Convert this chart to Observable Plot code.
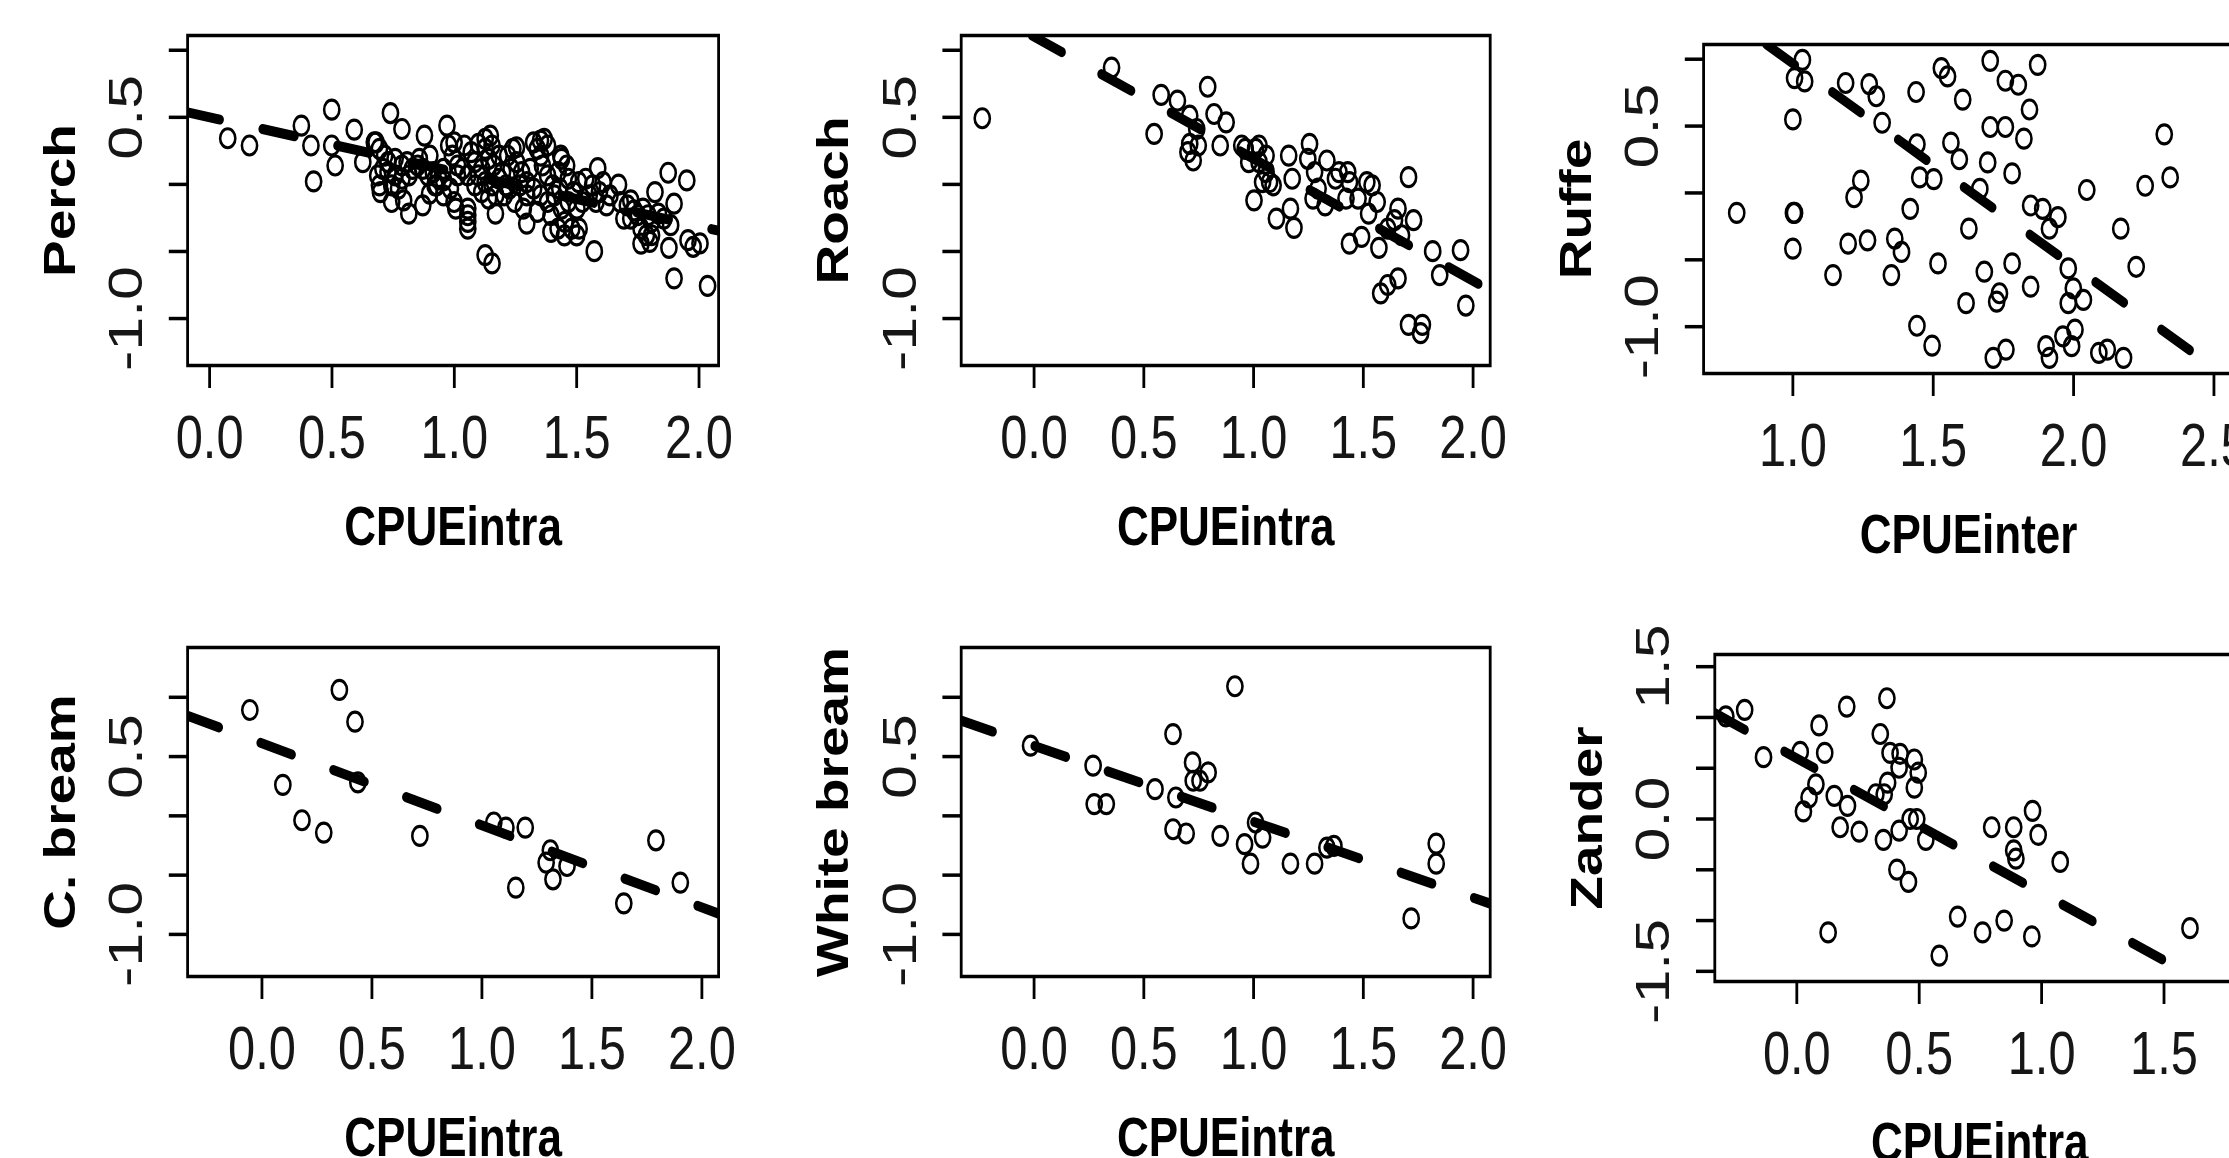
<!DOCTYPE html>
<html><head><meta charset="utf-8">
<script src="https://cdn.jsdelivr.net/npm/d3@7"></script>
<script src="https://cdn.jsdelivr.net/npm/@observablehq/plot@0.6"></script>
<style>
html,body{margin:0;padding:0;background:#fff;overflow:hidden;width:2229px;height:1158px;}
#stage{position:absolute;left:0;top:0;width:2787px;height:1158px;transform:scaleX(0.8);transform-origin:0 0;}
#stage svg{position:absolute;}
</style></head><body><div id="stage"></div>
<script>
// ---------- data ----------
const perchX = [0.074,0.163,0.375,0.414,0.425,0.499,0.499,0.513,0.591,0.626,0.68,0.698,0.739,0.786,0.744,0.793,0.814,0.871,0.878,0.9,0.928,0.97,0.999,1.006,1.055,1.055,1.055,1.055,1.126,1.154,1.147,1.168,1.254,1.296,1.352,1.395,1.435,1.45,1.5,1.51,1.572,1.586,1.671,1.693,1.763,1.799,1.82,1.874,1.898,1.898,1.877,1.884,1.95,1.955,1.976,2.004,2.035,
0.673,0.694,0.715,0.729,0.758,0.786,0.807,0.829,0.85,0.857,0.729,0.758,0.786,0.815,0.708,0.687,0.871,0.892,0.914,0.935,0.956,0.744,0.772,0.694,0.921,0.956,0.977,0.992,1.013,0.956,0.899,0.984,1.013,0.999,1.041,1.069,1.098,1.126,1.084,1.112,1.14,1.161,1.183,1.197,1.098,1.126,1.154,1.183,1.211,1.084,1.055,1.034,1.112,1.14,1.169,1.204,1.225,1.232,1.218,1.239,1.126,1.154,1.254,1.275,1.296,1.31,1.324,1.339,1.353,1.367,1.381,1.36,1.381,1.402,1.424,1.438,1.459,1.466,1.431,1.409,1.381,1.353,1.324,1.296,1.268,1.246,1.282,1.339,1.395,1.438,1.466,1.487,1.452,1.424,1.48,1.508,1.537,1.565,1.593,1.551,1.579,1.523,1.622,1.636,1.608,1.501,1.678,1.707,1.721,1.735,1.749,1.771,1.792,1.806,1.834,1.856,1.763,1.785,1.721,1.806];
const perchY = [0.344,0.29,0.438,0.29,0.022,0.557,0.29,0.141,0.408,0.166,0.314,-0.057,0.532,0.413,-0.131,-0.119,-0.218,-0.156,0.364,0.215,-0.007,0.438,0.314,-0.181,-0.18,-0.23,-0.28,-0.33,-0.527,-0.589,0.364,-0.218,0.277,-0.292,0.327,-0.354,0.215,-0.38,-0.38,-0.33,-0.498,0.121,-0.002,-0.255,-0.441,-0.428,-0.057,0.087,-0.144,-0.70,-0.473,-0.304,0.03,-0.416,-0.465,-0.44,-0.757,
0.314,0.265,0.215,0.166,0.191,0.141,0.166,0.116,0.141,0.191,0.092,0.067,0.042,0.067,0.116,0.067,0.116,0.067,0.092,0.054,0.03,-0.007,-0.032,-0.007,-0.007,0.116,0.29,0.215,0.141,-0.082,-0.069,-0.032,0.067,-0.131,0.29,0.24,0.302,0.265,0.166,0.116,0.191,0.141,0.215,0.092,0.067,0.017,-0.007,0.042,-0.007,-0.007,0.067,0.116,-0.057,-0.106,-0.082,-0.082,-0.032,0.116,0.215,0.265,0.339,0.29,0.166,0.092,0.017,0.116,0.314,0.265,0.215,0.339,0.29,0.141,0.067,-0.007,0.092,0.191,0.141,0.042,-0.032,-0.082,-0.131,-0.082,-0.032,-0.082,-0.007,-0.131,-0.181,-0.205,-0.23,-0.181,-0.131,-0.057,-0.28,-0.329,-0.329,0.017,0.042,-0.007,-0.057,-0.082,-0.131,-0.131,-0.156,-0.082,0.017,-0.181,-0.131,-0.156,-0.119,-0.193,-0.23,-0.181,-0.23,-0.28,-0.218,-0.255,-0.329,-0.379,-0.255,-0.379];
const perchLineX = [-0.09, 2.08];
const perchLineY = [0.537, -0.345];

const roachX = [-0.236,0.353,0.579,0.547,0.653,0.709,0.791,0.82,0.875,0.848,0.741,0.748,0.701,0.725,0.709,0.962,0.946,1.009,1.025,1.057,1.073,1.041,1.089,1.025,0.978,1.057,1.002,1.104,1.168,1.184,1.16,1.176,1.255,1.247,1.278,1.334,1.271,1.326,1.294,1.373,1.389,1.429,1.437,1.421,1.476,1.516,1.54,1.524,1.563,1.437,1.492,1.571,1.658,1.642,1.706,1.729,1.658,1.611,1.579,1.706,1.769,1.761,1.816,1.848,1.943,1.967,1.611,1.674];
const roachY = [0.493,0.871,0.668,0.376,0.624,0.512,0.728,0.525,0.463,0.29,0.413,0.29,0.24,0.178,0.302,0.265,0.29,0.265,0.166,0.092,0.017,0.017,-0.007,0.29,0.166,0.215,-0.119,-0.255,-0.181,-0.324,0.215,0.042,0.302,0.191,0.092,0.178,-0.106,-0.156,-0.032,0.042,0.092,0.092,0.017,-0.106,-0.106,0.017,-0.007,-0.218,-0.131,-0.441,-0.391,-0.473,-0.181,-0.267,0.054,-0.267,-0.7,-0.75,-0.812,-1.047,-1.047,-1.109,-0.498,-0.676,-0.49,-0.903,-0.329,-0.379];
const roachLineX = [-0.01, 2.078];
const roachLineY = [1.11, -0.79];

const ruffeX = [0.8,1.002,1.006,1.0,1.0,1.034,1.006,1.042,1.143,1.188,1.197,1.266,1.218,1.242,1.272,1.297,1.318,1.351,1.363,1.387,1.418,1.439,1.442,1.442,1.452,1.496,1.502,1.517,1.529,1.551,1.563,1.593,1.605,1.617,1.627,1.666,1.682,1.694,1.703,1.703,1.714,1.726,1.736,1.757,1.757,1.759,1.781,1.781,1.803,1.823,1.843,1.847,1.847,1.872,1.89,1.902,1.914,1.914,1.944,1.962,1.981,1.981,1.999,1.993,2.005,2.035,2.047,2.09,2.12,2.168,2.178,2.223,2.255,2.323,2.344];
const ruffeY = [-0.149,-0.149,-0.149,0.55,-0.416,0.995,0.859,0.834,-0.614,0.822,-0.379,-0.354,-0.032,0.092,0.814,0.723,0.525,-0.614,-0.342,-0.441,-0.119,0.755,0.364,-0.993,0.116,-1.141,0.104,-0.527,0.933,0.871,0.376,0.252,0.698,-0.824,-0.267,0.03,-0.589,0.228,0.988,0.493,-1.233,-0.812,-0.75,0.839,0.493,-1.171,0.146,-0.527,0.809,0.406,0.624,-0.7,-0.094,0.958,-0.119,-1.146,-1.233,-0.267,-0.181,-1.072,-0.564,-0.824,-0.713,-1.146,-1.022,-0.8,0.022,-1.196,-1.171,-0.267,-1.233,-0.552,0.054,0.438,0.116];
const ruffeLineX = [0.906, 2.529];
const ruffeLineY = [1.11, -1.35];

const cbreamX = [-0.055,0.095,0.182,0.281,0.352,0.423,0.436,0.718,1.054,1.109,1.197,1.154,1.292,1.311,1.323,1.387,1.645,1.791,1.902];
const cbreamY = [0.893,0.262,-0.037,-0.141,1.062,0.794,0.282,-0.169,-0.056,-0.099,-0.099,-0.606,-0.394,-0.29,-0.535,-0.423,-0.738,-0.206,-0.563];
const cbreamLineX = [-0.338, 2.076];
const cbreamLineY = [0.845, -0.825];

const wbreamX = [-0.016,0.269,0.274,0.329,0.551,0.633,0.646,0.633,0.693,0.722,0.725,0.756,0.793,0.915,0.848,0.959,0.986,1.009,1.041,1.168,1.278,1.334,1.366,1.718,1.832,1.832];
const wbreamY = [0.592,0.423,0.099,0.099,0.225,0.69,0.155,-0.113,-0.149,0.451,0.296,0.296,0.366,1.093,-0.169,-0.239,-0.403,-0.056,-0.183,-0.403,-0.403,-0.268,-0.254,-0.865,-0.234,-0.403];
const wbreamLineX = [-0.332, 2.078];
const wbreamLineY = [0.803, -0.74];

const zanderX = [-0.29,-0.213,-0.136,0.014,0.091,0.114,0.204,0.368,0.341,0.381,0.422,0.48,0.496,0.48,0.418,0.371,0.357,0.078,0.05,0.027,0.153,0.207,0.177,0.255,0.354,0.418,0.463,0.49,0.527,0.409,0.456,0.128,0.582,0.657,0.759,0.847,0.96,0.796,0.886,0.963,0.986,0.886,0.895,1.076,1.606,0.323];
const zanderY = [1.01,1.075,0.609,0.661,0.922,0.651,1.107,1.189,0.837,0.651,0.642,0.586,0.456,0.309,0.505,0.358,0.244,0.342,0.212,0.075,0.228,0.13,-0.081,-0.124,-0.205,-0.114,0.0,0.0,-0.205,-0.498,-0.619,-1.117,-1.345,-0.961,-1.117,-1.0,-1.156,-0.081,-0.081,0.081,-0.156,-0.309,-0.391,-0.423,-1.075,0.244];
const zanderLineX = [-0.335, 1.563];
const zanderLineY = [1.042, -1.476];

const ticksA = [0, 0.5, 1, 1.5, 2];
const ticksInter = [1, 1.5, 2, 2.5];
const ticksZ = [0, 0.5, 1, 1.5];
const yTicksA = [-1, -0.5, 0, 0.5, 1];
const yLabelsA = [-1, 0.5];
const yTicksZ = [-1.5, -1, -0.5, 0, 0.5, 1, 1.5];
const yLabelsZ = [-1.5, 0, 1.5];

// ---------- layout ----------
const ML = 210, MR = 30, MT = 20, MB = 210;
const panels = [
  {xs: perchX, ys: perchY, lx: perchLineX, ly: perchLineY, xd: [-0.09, 2.08], yd: [-1.35, 1.11], xt: ticksA, yt: yTicksA, yl: yLabelsA, xTitle: "CPUEintra", yTitle: "Perch", left: 233.75, top: 35, w: 663.75, h: 330},
  {xs: roachX, ys: roachY, lx: roachLineX, ly: roachLineY, xd: [-0.332, 2.078], yd: [-1.35, 1.11], xt: ticksA, yt: yTicksA, yl: yLabelsA, xTitle: "CPUEintra", yTitle: "Roach", left: 1201.25, top: 35, w: 661.25, h: 330},
  {xs: ruffeX, ys: ruffeY, lx: ruffeLineX, ly: ruffeLineY, xd: [0.682, 2.57], yd: [-1.35, 1.11], xt: ticksInter, yt: yTicksA, yl: yLabelsA, xTitle: "CPUEinter", yTitle: "Ruffe", left: 2128.75, top: 44, w: 662.5, h: 329},
  {xs: cbreamX, ys: cbreamY, lx: cbreamLineX, ly: cbreamLineY, xd: [-0.338, 2.076], yd: [-1.355, 1.42], xt: ticksA, yt: yTicksA, yl: yLabelsA, xTitle: "CPUEintra", yTitle: "C. bream", left: 233.75, top: 647, w: 663.75, h: 329},
  {xs: wbreamX, ys: wbreamY, lx: wbreamLineX, ly: wbreamLineY, xd: [-0.332, 2.078], yd: [-1.355, 1.42], xt: ticksA, yt: yTicksA, yl: yLabelsA, xTitle: "CPUEintra", yTitle: "White bream", left: 1201.25, top: 647, w: 661.25, h: 329},
  {xs: zanderX, ys: zanderY, lx: zanderLineX, ly: zanderLineY, xd: [-0.335, 1.83], yd: [-1.6, 1.62], xt: ticksZ, yt: yTicksZ, yl: yLabelsZ, xTitle: "CPUEintra", yTitle: "Zander", left: 2142.5, top: 654, w: 662.5, h: 327}
];

const fmt = d => d.toFixed(1);
const stage = document.getElementById("stage");

for (const p of panels) {
  const pts = p.xs.map((x, i) => ({x, y: p.ys[i]}));
  const line = p.lx.map((x, i) => ({x, y: p.ly[i]}));
  const svg = Plot.plot({
    width: ML + p.w + MR,
    height: MT + p.h + MB,
    marginLeft: ML, marginRight: MR, marginTop: MT, marginBottom: MB,
    x: {domain: p.xd, label: null},
    y: {domain: p.yd, label: null},
    style: {fontFamily: "'Liberation Sans', Arial, sans-serif", background: "transparent", color: "black", overflow: "visible"},
    marks: [
      Plot.line(line, {x: "x", y: "y", stroke: "black", strokeWidth: 10, strokeDasharray: "41,54", strokeLinecap: "round", clip: true}),
      Plot.dot(pts, {x: "x", y: "y", r: 9.5, stroke: "black", strokeWidth: 3.2, fill: "none", clip: true}),
      Plot.frame({stroke: "black", strokeWidth: 3.5}),
      Plot.axisX({ticks: p.xt, tickSize: 23, tickFormat: () => "", strokeWidth: 3.5, label: null}),
      Plot.axisY({ticks: p.yt, tickSize: 23, tickFormat: () => "", strokeWidth: 3.5, label: null}),
      Plot.text(p.xt, {x: d => d, text: fmt, frameAnchor: "bottom", dy: 49, lineAnchor: "top", fontSize: 61, fill: "#161616"}),
      Plot.text(p.yl, {y: d => d, text: fmt, frameAnchor: "left", dx: -57, rotate: -90, textAnchor: "middle", lineAnchor: "bottom", fontSize: 61, fill: "#161616"}),
      Plot.text([p.xTitle], {text: d => d, frameAnchor: "bottom", dy: 179, lineAnchor: "bottom", fontWeight: "bold", fontSize: 55}),
      Plot.text([p.yTitle], {text: d => d, frameAnchor: "left", dx: -141, rotate: -90, textAnchor: "middle", lineAnchor: "bottom", fontWeight: "bold", fontSize: 55})
    ]
  });
  svg.style.left = (p.left - ML) + "px";
  svg.style.top = (p.top - MT) + "px";
  stage.appendChild(svg);
}
</script>
</body></html>
